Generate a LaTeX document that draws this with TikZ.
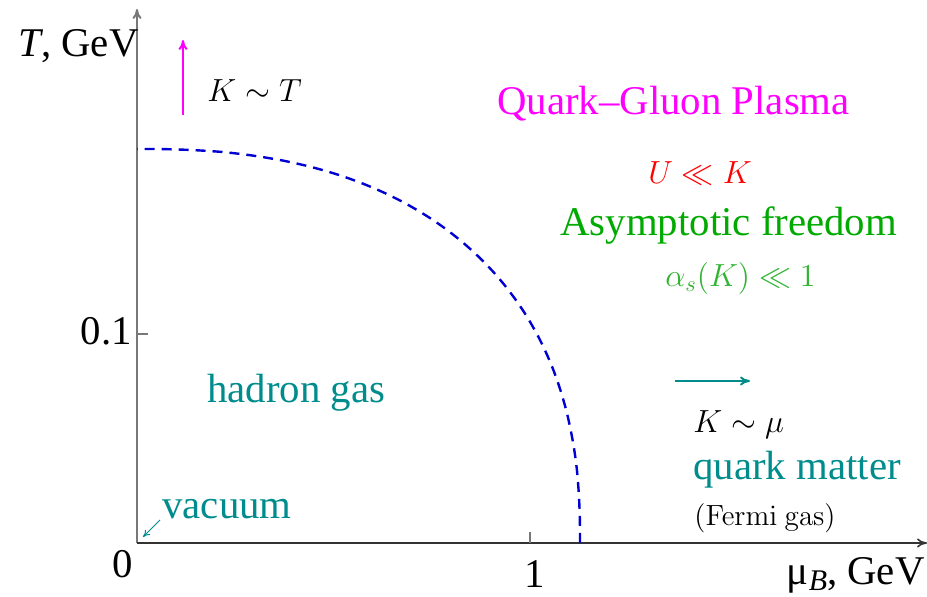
\RequirePackage{fix-cm}
\documentclass[tikz,border=0pt]{standalone}
\usepackage[no-math]{fontspec}
\setmainfont{Liberation Serif}
\usetikzlibrary{arrows.meta, positioning}
\definecolor{PhaseMagenta}{RGB}{255, 0, 255}
\definecolor{PhaseRed}{RGB}{255, 0, 0}
\definecolor{PhaseGreen}{RGB}{0, 170, 0}
\definecolor{PhaseLightGreen}{RGB}{50, 180, 50}
\definecolor{PhaseTeal}{RGB}{0, 140, 140}
\definecolor{PhaseBlue}{RGB}{0, 0, 210}
\definecolor{PhaseAxis}{RGB}{120, 120, 120}
\tikzset{
  bigtext/.style={font=\fontsize{20.4}{24}\selectfont, inner sep=0pt},
  mathtext/.style={font=\fontsize{16}{19}\selectfont, inner sep=0pt},
  smalltext/.style={font=\fontsize{14.6}{17}\selectfont, inner sep=0pt},
  thinarrow/.style={-{To[length=5pt, width=4.5pt]}},
}

\begin{document}
\begin{tikzpicture}[x=0.5pt, y=-0.5pt]
    \useasboundingbox (0,0) rectangle (927,597);

    % axes
    \coordinate (origin) at (137,543);
    \coordinate (xend) at (927,543);
    \coordinate (yend) at (137,9);
    \coordinate (xtick) at (530,543);
    \coordinate (ytick) at (137,334);
    \draw[PhaseAxis, line width=1pt, thinarrow] (origin) -- (yend);
    \draw[black!80, line width=0.8pt, thinarrow] (origin) -- (xend);
    \draw[PhaseAxis, line width=0.7pt] (xtick) -- ++(0,-11);
    \draw[PhaseAxis, line width=0.7pt] (ytick) -- ++(11,0);

    \node[bigtext, anchor=base] (zero) at (123,578) {0};
    \node[bigtext, anchor=base] (one) at (535,588) {1};
    \node[bigtext, anchor=base east] (tenth) at (132,345) {0.1};
    \node[bigtext, anchor=base west] (Tlabel) at (18,57) {\textit{T}, GeV};
    \node[bigtext, anchor=base east] (mulabel) at (925,585)
      {μ\raisebox{-0.3ex}{\fontsize{15}{15}\selectfont\textit{B}}, GeV};

    % phase boundary
    \draw[PhaseBlue, line width=1.2pt, dash pattern=on 5pt off 3.5pt]
      plot[domain=0:90, samples=100, smooth]
      ({137+443*pow(abs(cos(\x))+0.00001,0.8333)}, {543-394*pow(abs(sin(\x))+0.00001,0.8333)});

    % high temperature
    \coordinate (Tfrom) at (183,115);
    \coordinate (Tto) at (183,40);
    \draw[PhaseMagenta, line width=1pt, thinarrow] (Tfrom) -- (Tto);
    \node[mathtext, anchor=base west] (KT) at (207,102) {$K\sim T$};
    \node[bigtext, PhaseMagenta, anchor=base west] (qgp) at (497,115) {Quark–Gluon Plasma};
    \node[mathtext, PhaseRed, anchor=base west] (UK) at (648,184) {$U\ll K$};
    \node[bigtext, PhaseGreen, anchor=base west] (asym) at (560,236) {Asymptotic freedom};
    \node[mathtext, PhaseLightGreen, anchor=base west] (alpha) at (665,287) {$\alpha_s(K)\ll 1$};

    % high density
    \coordinate (mufrom) at (675,381);
    \coordinate (muto) at (750,381);
    \draw[PhaseTeal, line width=1pt, thinarrow] (mufrom) -- (muto);
    \node[mathtext, anchor=base west] (Kmu) at (693,433) {$K\sim\mu$};
    \node[bigtext, PhaseTeal, anchor=base west] (quark) at (693,480) {quark matter};
    \node[smalltext, anchor=base west] (fermi) at (694,526) {$\mathrm{(Fermi\ gas)}$};

    % low temperature and density
    \node[bigtext, PhaseTeal, anchor=base west] (hadron) at (207,403) {hadron gas};
    \node[bigtext, PhaseTeal, anchor=base west] (vac) at (162,519) {vacuum};
    \coordinate (vacfrom) at (160,520);
    \coordinate (vacto) at (143,537);
    \draw[PhaseTeal, line width=0.5pt, -{To[length=3.5pt, width=3.5pt]}] (vacfrom) -- (vacto);
\end{tikzpicture}
\end{document}
